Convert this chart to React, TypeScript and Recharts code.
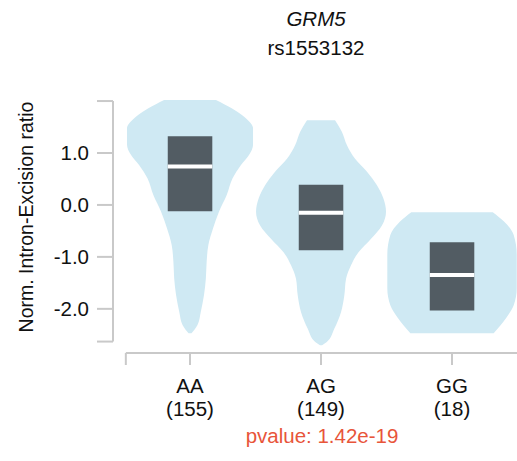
import React from 'react';
import {
  ComposedChart,
  Area,
  XAxis,
  YAxis,
  ReferenceArea,
  ReferenceLine,
} from 'recharts';

// ---- data ----
const GENOTYPES = ['AA', 'AG', 'GG'];
const COUNTS = ['(155)', '(149)', '(18)'];
const TITLE_GENE = 'GRM5';
const TITLE_SNP = 'rs1553132';
const PVALUE = 'pvalue: 1.42e-19';
const Y_LABEL = 'Norm. Intron-Excision ratio';

// violin profiles: value levels and half-widths (in category units)
const AA_LEVELS = [2.02, 1.86, 1.67, 1.48, 1.16, 0.96, 0.77, 0.51, 0.19, -0.13, -0.45, -0.77, -1.09, -1.41, -1.73, -2.06, -2.31, -2.47];
const AA_HALF = [0.198, 0.318, 0.426, 0.481, 0.481, 0.45, 0.389, 0.324, 0.28, 0.221, 0.176, 0.14, 0.127, 0.121, 0.107, 0.082, 0.057, 0.011];

const AG_LEVELS = [1.63, 1.41, 1.15, 0.89, 0.64, 0.38, 0.12, -0.13, -0.39, -0.65, -0.91, -1.16, -1.42, -1.74, -2.06, -2.38, -2.64, -2.7];
const AG_HALF = [0.107, 0.159, 0.198, 0.26, 0.351, 0.427, 0.477, 0.496, 0.466, 0.382, 0.286, 0.229, 0.191, 0.178, 0.153, 0.102, 0.044, 0.008];

const GG_LEVELS = [-0.14, -0.32, -0.58, -0.96, -1.61, -1.93, -2.18, -2.47];
const GG_HALF = [0.311, 0.397, 0.471, 0.494, 0.494, 0.471, 0.412, 0.318];

// box stats
const BOX_Q3 = [1.32, 0.39, -0.72];
const BOX_Q1 = [-0.12, -0.87, -2.03];
const MEDIANS = [0.74, -0.15, -1.35];

const Y_TICKS = [2.0, 1, 0, -1, -2, -2.63];
const X_TICKS = [-0.49, 0, 1, 2];

// ---- build table ----
const VIOLINS: [string, number[], number[]][] = [
  ['aa', AA_LEVELS, AA_HALF],
  ['ag', AG_LEVELS, AG_HALF],
  ['gg', GG_LEVELS, GG_HALF],
];
const rows: any[] = [];
VIOLINS.forEach(([key, levels, half], ci) => {
  levels.forEach((v, i) => {
    rows.push({ y: v, [key]: [ci - half[i], ci + half[i]] });
  });
});

const X_DOMAIN: [number, number] = [-0.588, 2.496];
const Y_DOMAIN: [number, number] = [-2.85, 2.02];
const BOX_HALF = 0.17;

const FONT = '"Liberation Sans", Arial, sans-serif';
const FS = 20.5;
const AXIS_COLOR = '#c9c9c9';
const VIOLIN_COLOR = '#cfe9f3';
const BOX_COLOR = '#525c63';

const XTick = (props: any) => {
  const { x, y, payload } = props;
  const i = [0, 1, 2].indexOf(payload.value);
  if (i < 0) return null;
  return (
    <text textAnchor="middle" fontSize={FS} fill="#111" fontFamily={FONT}>
      <tspan x={x} y={y + 28}>{GENOTYPES[i]}</tspan>
      <tspan x={x} y={y + 51}>{COUNTS[i]}</tspan>
    </text>
  );
};

export default function App() {
  return (
    <div style={{ position: 'absolute', left: 0, top: 0, width: 517, height: 461, background: '#fff' }}>
      <ComposedChart
        layout="vertical"
        width={517}
        height={461}
        data={rows}
        margin={{ top: 100, right: 0, bottom: 28, left: 0 }}
        style={{ fontFamily: FONT }}
      >
        <XAxis
          type="number"
          domain={X_DOMAIN}
          allowDataOverflow
          ticks={X_TICKS}
          interval={0}
          height={80}
          tickSize={12}
          tickMargin={0}
          axisLine={false}
          tickLine={{ stroke: AXIS_COLOR, strokeWidth: 2 }}
          tick={<XTick />}
        />
        <YAxis
          type="number"
          dataKey="y"
          domain={Y_DOMAIN}
          allowDataOverflow
          reversed
          ticks={Y_TICKS}
          interval={0}
          width={113}
          tickSize={16}
          tickMargin={8}
          axisLine={false}
          tickLine={{ stroke: AXIS_COLOR, strokeWidth: 2 }}
          tick={{ fontSize: FS, fill: '#111', fontFamily: FONT }}
          tickFormatter={(v: number) => (v === Y_TICKS[0] || v === Y_TICKS[Y_TICKS.length - 1] ? '' : v.toFixed(1))}
        />
        {VIOLINS.map(([key]) => (
          <Area
            key={key}
            dataKey={key}
            type="monotone"
            fill={VIOLIN_COLOR}
            fillOpacity={1}
            stroke="none"
            isAnimationActive={false}
            dot={false}
            activeDot={false}
          />
        ))}
        <ReferenceLine
          segment={[{ x: X_DOMAIN[0], y: Y_TICKS[0] }, { x: X_DOMAIN[0], y: Y_TICKS[Y_TICKS.length - 1] }]}
          stroke={AXIS_COLOR}
          strokeWidth={2}
          ifOverflow="visible"
        />
        <ReferenceLine
          segment={[{ x: X_TICKS[0], y: Y_DOMAIN[0] }, { x: X_DOMAIN[1], y: Y_DOMAIN[0] }]}
          stroke={AXIS_COLOR}
          strokeWidth={2}
          ifOverflow="visible"
        />
        {BOX_Q3.map((q3, i) => (
          <ReferenceArea
            key={'box' + i}
            x1={i - BOX_HALF}
            x2={i + BOX_HALF}
            y1={BOX_Q1[i]}
            y2={q3}
            fill={BOX_COLOR}
            fillOpacity={1}
            stroke="none"
            ifOverflow="visible"
            {...({ zIndex: 800 } as any)}
          />
        ))}
        {MEDIANS.map((m, i) => (
          <ReferenceLine
            key={'med' + i}
            segment={[{ x: i - BOX_HALF, y: m }, { x: i + BOX_HALF, y: m }]}
            stroke="#ffffff"
            strokeWidth={4}
            ifOverflow="visible"
            {...({ zIndex: 900 } as any)}
          />
        ))}
      </ComposedChart>
      <svg
        width={517}
        height={461}
        style={{ position: 'absolute', left: 0, top: 0, pointerEvents: 'none' }}
      >
        <text x={316} y={26} textAnchor="middle" fontSize={FS} fontStyle="italic" fill="#111" fontFamily={FONT}>
          {TITLE_GENE}
        </text>
        <text x={316} y={55} textAnchor="middle" fontSize={FS} fill="#111" fontFamily={FONT}>
          {TITLE_SNP}
        </text>
        <text
          x={33}
          y={217}
          transform="rotate(-90 33 217)"
          textAnchor="middle"
          fontSize={19.5}
          fill="#111"
          fontFamily={FONT}
        >
          {Y_LABEL}
        </text>
        <text x={322} y={443} textAnchor="middle" fontSize={FS} fill="#e8553a" fontFamily={FONT}>
          {PVALUE}
        </text>
      </svg>
    </div>
  );
}
